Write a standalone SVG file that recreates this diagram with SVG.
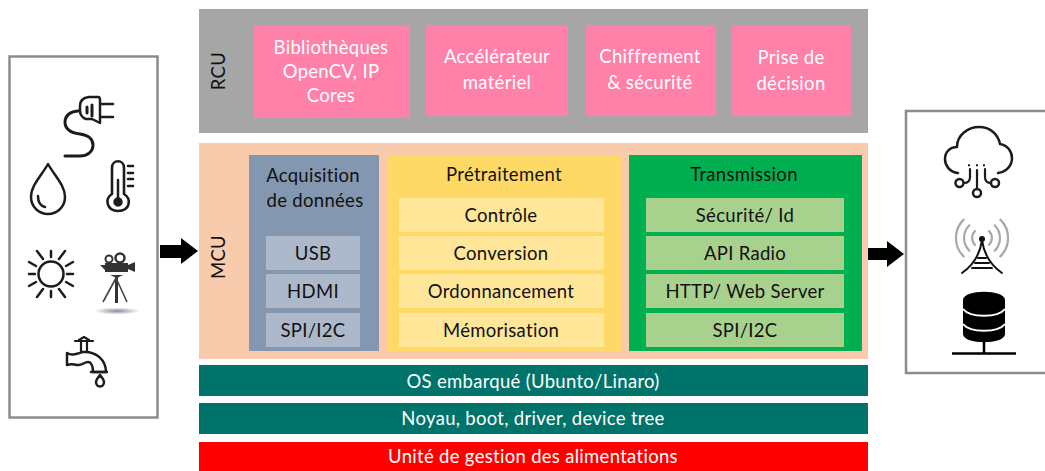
<svg xmlns="http://www.w3.org/2000/svg" width="1045" height="471" viewBox="0 0 1045 471">
<style>
text{font-family:"Lato","Open Sans",sans-serif;font-size:18.5px;letter-spacing:.3px;fill:#111;text-anchor:middle}
.pk{fill:#ff80a8}.pt{fill:#fff}.w{fill:#fff}
.ac{fill:#adb9ca}.pr{fill:#ffe699}.tr{fill:#a9d18e}.teal{fill:#00746b}
.frame{fill:#fff;stroke:#8c8c8c;stroke-width:2.5}
.ic{fill:none;stroke:#1c1c1c;stroke-width:2.5;stroke-linecap:round;stroke-linejoin:round}
.gr{fill:none;stroke:#a8a8a8;stroke-width:2.2;stroke-linecap:round}
</style>
<defs><radialGradient id="sh"><stop offset="0" stop-color="#8a8a9a"/><stop offset="1" stop-color="#fff"/></radialGradient></defs>

<g id="sensors">
<rect class="frame" x="9.500" y="56.500" width="148" height="361"/>
<g id="plug" class="ic">
<path d="M89 97H98Q100 97 100 100V123L92 119H86Q80 117 80 110V106Q80 98 89 97Z"/>
<path d="M101 104H113M101 117H113"/>
<path d="M87 107V113M92 105V116" stroke-width="3"/>
<path d="M79 111C70 111 65 116 65 122C65 130 72 133 80 134C88 135 93 139 93 145C93 152 87 156 80 156H65" stroke-width="3"/>
</g>
<path id="drop" class="ic" stroke-width="3" d="M48 164C42 175 31 185 31 197C31 207 39 214 48 214C57 214 65 207 65 197C65 185 54 175 48 164ZM38 196C38 202 41 206 45 207"/>
<g id="thermometer" class="ic">
<path d="M112 194V168C112 159 124 159 124 168V194C132 199 130 211 118 211C107 211 104 199 112 194Z" stroke-width="2.600"/>
<path d="M118 180V200"/><circle cx="118" cy="202" r="3.500" fill="#1c1c1c"/>
<path d="M128 166H133M128 173H133M128 179H133M128 186H133"/>
</g>
<g id="sun" class="ic" stroke-width="2.800">
<circle cx="51" cy="274" r="12.500"/>
<path d="M51 251V257M51 291V297M29 274H35M67 274H73M37 251L43 259M65 251L59 259M37 297L43 289M65 297L59 289M29 262L36 266M73 262L66 266M29 286L36 282M73 286L66 282"/>
</g>
<g id="camera">
<ellipse cx="117" cy="311" rx="23" ry="3.500" fill="url(#sh)"/>
<path d="M105 263H128V272H105ZM128 265L135 262V272L128 269ZM105 265L100 265L105 270Z" fill="#333"/>
<circle cx="109" cy="259" r="3.500" fill="#fff" stroke="#333" stroke-width="2"/>
<circle cx="120" cy="258" r="4.500" fill="#fff" stroke="#333" stroke-width="2.500"/>
<path d="M110 275H123L117 278ZM115 277H118V303H115Z" fill="#333"/>
<path d="M116 278L103 302M116 278L127 302" stroke="#444" stroke-width="1.600" fill="none"/>
</g>
<g id="tap" class="ic" stroke-width="2">
<path d="M75 341H93M79 340L84 337L89 340M81 342V351M87 342V351" stroke-width="2.200"/>
<path d="M67 353C72 356 76 354 83 352C96 351 106 360 106 372H93C93 366 91 362 88 362C84 362 82 366 77 365C73 364 70 364 67 365Z"/>
<path d="M91 372H107" stroke-width="2.400"/>
<path d="M100 375C98 378 96 379 96 382C96 388 104 388 104 382C104 379 102 378 100 375Z"/>
</g>
</g>

<g id="connectors">
<path id="arrow-in" fill="#000" d="M160 245H181V238L198 251L181 264V258H160Z"/>
<path id="arrow-out" fill="#000" d="M867 248H887V241L904 254L887 267V260H867Z"/>
</g>

<g id="rcu">
<rect x="199" y="9" width="669" height="124" fill="#a6a6a6"/>
<text transform="translate(225 71) rotate(-90)">RCU</text>
<g id="rcu-1"><rect class="pk" x="254" y="25" width="156" height="92"/><text class="pt" x="331" y="54">Bibliothèques</text><text class="pt" x="331" y="78">OpenCV, IP</text><text class="pt" x="331" y="102">Cores</text></g>
<g id="rcu-2"><rect class="pk" x="426" y="25" width="142" height="91"/><text class="pt" x="497" y="63">Accélérateur</text><text class="pt" x="497" y="89">matériel</text></g>
<g id="rcu-3"><rect class="pk" x="586" y="25" width="130" height="91"/><text class="pt" x="650" y="63">Chiffrement</text><text class="pt" x="650" y="89">&amp; sécurité</text></g>
<g id="rcu-4"><rect class="pk" x="732" y="25" width="119" height="91"/><text class="pt" x="791" y="64">Prise de</text><text class="pt" x="791" y="90">décision</text></g>
</g>

<g id="mcu">
<rect x="199" y="143" width="669" height="216" fill="#f8cbad"/>
<text transform="translate(225 257) rotate(-90)">MCU</text>
<g id="acquisition">
<rect x="249" y="155" width="130" height="196" fill="#8497b0"/>
<text x="313" y="182">Acquisition</text><text x="315" y="207">de données</text>
<rect class="ac" x="266" y="236" width="94" height="34"/><text x="313" y="260">USB</text>
<rect class="ac" x="266" y="274" width="94" height="34"/><text x="313" y="298">HDMI</text>
<rect class="ac" x="266" y="313" width="94" height="34"/><text x="313" y="337">SPI/I2C</text>
</g>
<g id="pretraitement">
<rect x="387" y="155" width="234" height="196" fill="#ffd966"/>
<text x="504" y="181">Prétraitement</text>
<rect class="pr" x="399" y="198" width="205" height="34"/><text x="501" y="222">Contrôle</text>
<rect class="pr" x="399" y="236" width="205" height="34"/><text x="501" y="260">Conversion</text>
<rect class="pr" x="399" y="274" width="205" height="34"/><text x="501" y="298">Ordonnancement</text>
<rect class="pr" x="399" y="313" width="205" height="34"/><text x="501" y="337">Mémorisation</text>
</g>
<g id="transmission">
<rect x="629" y="155" width="233" height="196" fill="#00b050"/>
<text x="744" y="181">Transmission</text>
<rect class="tr" x="646" y="198" width="198" height="34"/><text x="745" y="222">Sécurité/ Id</text>
<rect class="tr" x="646" y="236" width="198" height="34"/><text x="745" y="260">API Radio</text>
<rect class="tr" x="646" y="274" width="198" height="34"/><text x="745" y="298">HTTP/ Web Server</text>
<rect class="tr" x="646" y="313" width="198" height="34"/><text x="745" y="337">SPI/I2C</text>
</g>
</g>

<g id="os"><rect class="teal" x="199" y="365" width="669" height="31"/><text class="w" x="533" y="388">OS embarqué (Ubunto/Linaro)</text></g>
<g id="noyau"><rect class="teal" x="199" y="403" width="669" height="31"/><text class="w" x="533" y="425">Noyau, boot, driver, device tree</text></g>
<g id="power"><rect x="199" y="442" width="669" height="29" fill="#ff0000"/><text class="w" x="533" y="463">Unité de gestion des alimentations</text></g>

<g id="outputs">
<rect class="frame" x="906" y="111" width="142" height="262"/>
<g id="cloud" class="ic" stroke-width="2.600">
<path d="M958 173C949 172 945 165 945 159C945 152 950 147 957 147C957 135 968 127 979 127C990 127 998 134 1000 144C1007 145 1012 151 1012 158C1012 166 1006 172 998 173"/>
<path d="M970 169V177Q970 183 964 183M977 170V189M985 169V177Q985 183 991 183" stroke-width="2.200"/>
<circle cx="959.500" cy="183" r="4"/><circle cx="977" cy="193" r="4"/><circle cx="995" cy="183" r="4"/>
<path d="M969 165V165.500M977 165V165.500M984 165V165.500" stroke-width="2"/>
</g>
<g id="antenna">
<path class="gr" d="M963.600 219.600A26 26 0 0 0 963.600 256.400M1000.400 219.600A26 26 0 0 1 1000.400 256.400M969.300 225.300A18 18 0 0 0 969.300 250.700M994.700 225.300A18 18 0 0 1 994.700 250.700M975 231A10 10 0 0 0 975 245M989 231A10 10 0 0 1 989 245"/>
<path d="M982 240C980 255 972 266 962 273M982 240C984 255 992 266 1002 273M972 268H992M975 263H989M978 258H986" fill="none" stroke="#111" stroke-width="1.900" stroke-linecap="round"/>
<circle cx="982" cy="239" r="3" fill="#111"/>
</g>
<g id="database">
<path fill="#000" d="M963 300C963 289 1005 289 1005 300V334C1005 345 963 345 963 334Z"/>
<path d="M963 309C970 318 998 318 1005 309M963 324C970 333 998 333 1005 324" fill="none" stroke="#fff" stroke-width="2"/>
<path d="M984 342V353M952 353.500H1016" stroke="#000" stroke-width="2.500"/>
</g>
</g>
</svg>
